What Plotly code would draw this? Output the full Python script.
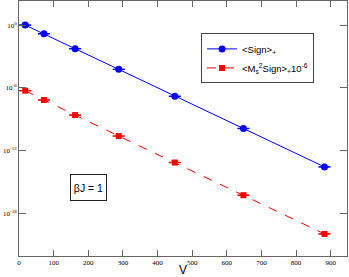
import plotly.graph_objects as go

V = [18, 72, 162, 288, 450, 648, 882]
sign_plus = [10**0.0, 10**-0.83, 10**-2.26, 10**-4.23, 10**-6.8, 10**-9.88, 10**-13.55]
ms2_sign = [10**-6.27, 10**-7.16, 10**-8.6, 10**-10.6, 10**-13.13, 10**-16.25, 10**-19.95]
sign_err = [v * 0.05 for v in sign_plus]
ms2_err = [v * 0.05 for v in ms2_sign]

x_ticks = [0, 100, 200, 300, 400, 500, 600, 700, 800, 900]
y_tickvals = [1, 1e-6, 1e-12, 1e-18]
y_ticktext = ["10<sup>0</sup>", "10<sup>-6</sup>", "10<sup>-12</sup>", "10<sup>-18</sup>"]

fig = go.Figure()
fig.add_trace(go.Scatter(
    x=V, y=sign_plus, mode="lines+markers",
    name="&lt;Sign&gt;<sub>+</sub>",
    line=dict(color="#0000ff", width=1),
    marker=dict(symbol="circle", size=7, color="#0000ff"),
    error_y=dict(type="data", array=sign_err, color="#0000ff", width=6, thickness=1),
))
fig.add_trace(go.Scatter(
    x=V, y=ms2_sign, mode="lines+markers",
    name="&lt;M<sub>s</sub><sup>2</sup>Sign&gt;<sub>+</sub>10<sup>-6</sup>",
    line=dict(color="#ff0000", width=1, dash="dash"),
    marker=dict(symbol="square", size=6, color="#ff0000"),
    error_y=dict(type="data", array=ms2_err, color="#ff0000", width=6, thickness=1),
))

axis_color = "#666666"
fig.update_layout(
    width=349, height=277,
    margin=dict(l=19, r=2, t=1, b=21, autoexpand=False),
    paper_bgcolor="white", plot_bgcolor="white",
    showlegend=True,
    legend=dict(
        x=0.555, y=0.873, xanchor="left", yanchor="top",
        bordercolor="#444444", borderwidth=1, bgcolor="white",
        font=dict(family="Liberation Sans", size=9.5, color="black"),
        itemwidth=30, tracegroupgap=0,
    ),
    xaxis=dict(
        range=[0, 947], tickvals=x_ticks, ticks="inside", ticklen=6,
        showline=True, mirror="ticks", linecolor=axis_color, linewidth=1,
        tickcolor=axis_color, showgrid=False, zeroline=False, automargin=False,
        tickfont=dict(family="Liberation Serif", size=7, color="black"),
        title=dict(text="V", font=dict(family="Liberation Sans", size=12, color="black"), standoff=4),
    ),
    yaxis=dict(
        type="log", range=[-22.06, 2.3], tickvals=y_tickvals, ticktext=y_ticktext,
        ticks="inside", ticklen=7, automargin=False,
        showline=True, mirror="ticks", linecolor=axis_color, linewidth=1,
        tickcolor=axis_color, showgrid=False, zeroline=False,
        tickfont=dict(family="Liberation Serif", size=7, color="black"),
    ),
    annotations=[dict(
        x=0.2125, y=0.27, xref="paper", yref="paper",
        xanchor="center", yanchor="middle",
        text="βJ = 1", showarrow=False, width=35, height=25,
        font=dict(family="Liberation Sans", size=10.5, color="black"),
        bordercolor="#222222", borderwidth=1, borderpad=0, bgcolor="white",
    )],
)

fig.write_html(
    "out.html",
    config={"displayModeBar": False},
    post_script="document.body.style.margin='0';document.body.style.padding='0';",
)
